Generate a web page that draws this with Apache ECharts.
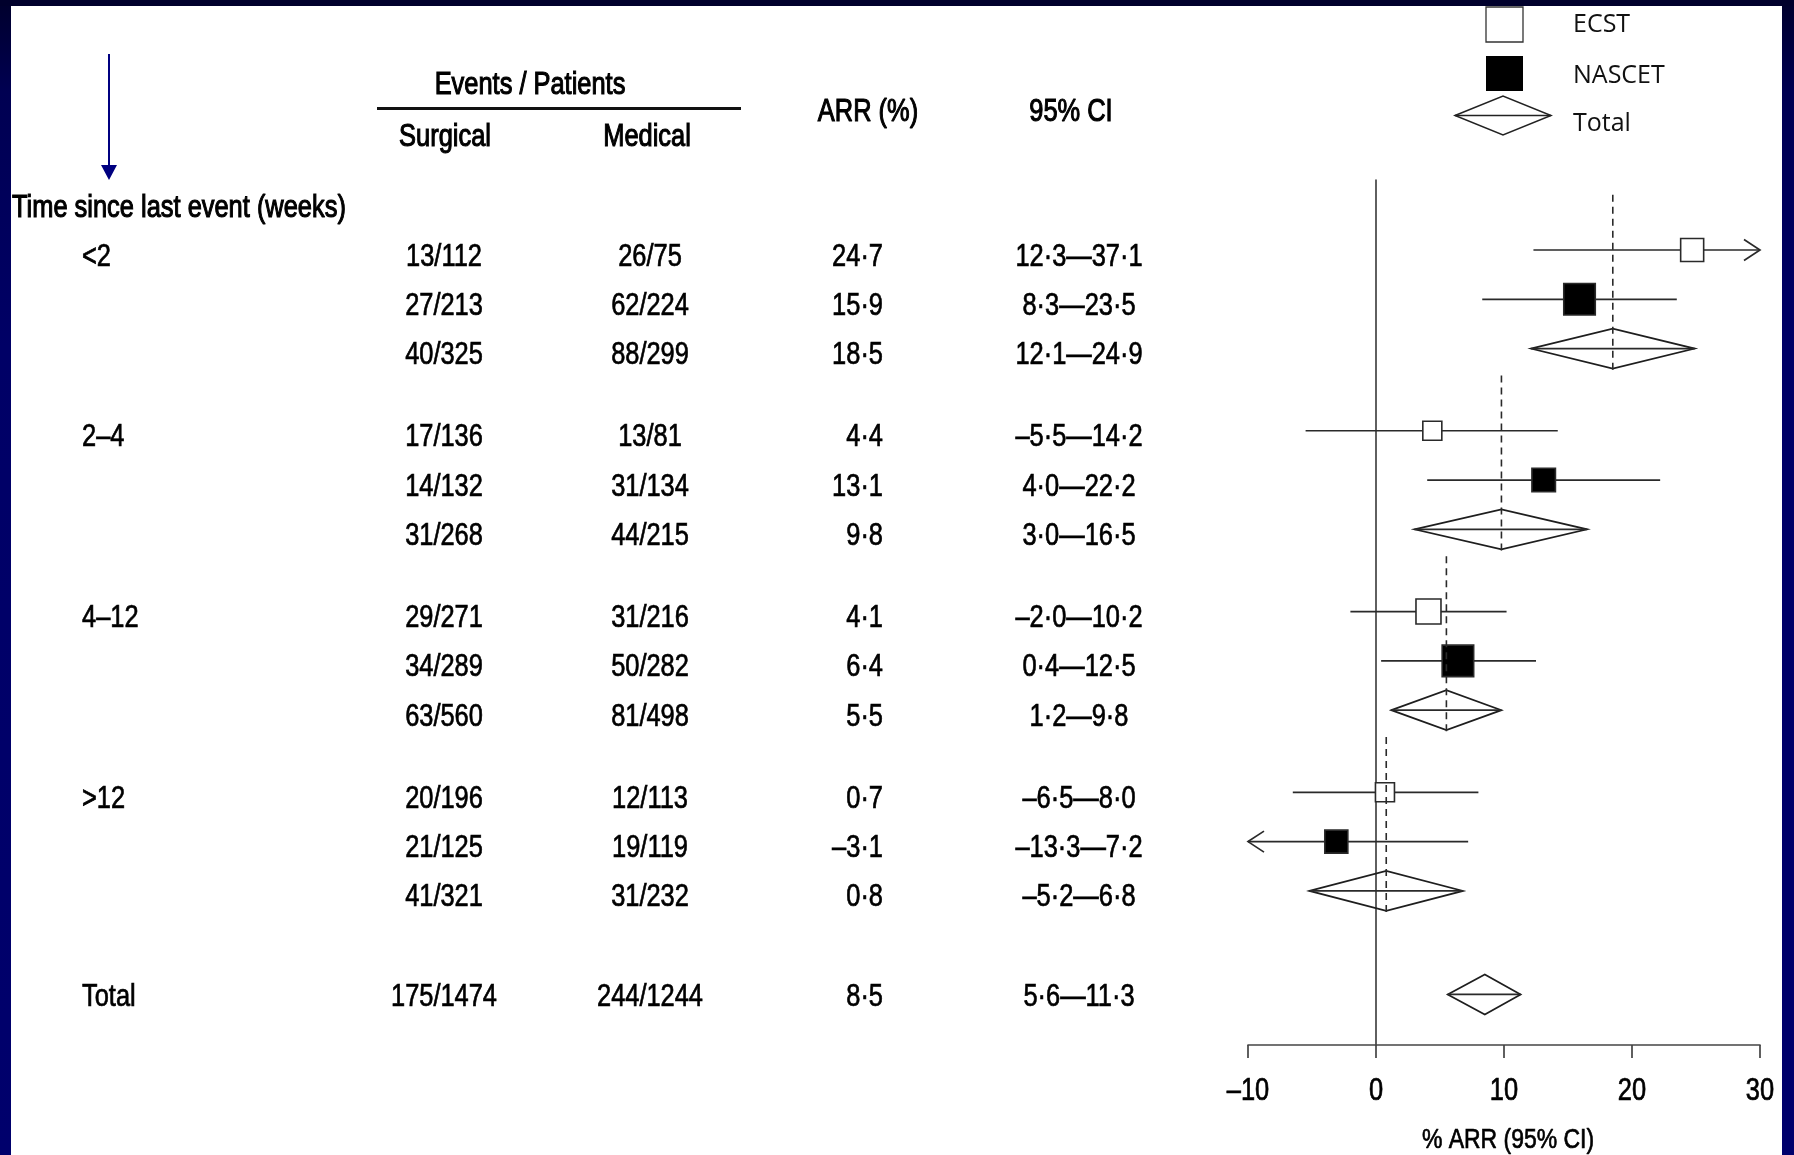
<!DOCTYPE html>
<html>
<head>
<meta charset="utf-8">
<script src="https://cdn.jsdelivr.net/npm/echarts@6/dist/echarts.min.js"></script>
<style>
html,body{margin:0;padding:0;background:#000066;}
#c{width:1794px;height:1155px;}
</style>
</head>
<body>
<div id="c"></div>
<script>
// ---------------- data ----------------
const groupLabels = ['<2', '2–4', '4–12', '>12'];
const studies = ['ECST', 'NASCET', 'Total', 'ECST', 'NASCET', 'Total', 'ECST', 'NASCET', 'Total', 'ECST', 'NASCET', 'Total', 'Overall'];
const surgicalEvents   = [13, 27, 40, 17, 14, 31, 29, 34, 63, 20, 21, 41, 175];
const surgicalPatients = [112, 213, 325, 136, 132, 268, 271, 289, 560, 196, 125, 321, 1474];
const medicalEvents    = [26, 62, 88, 13, 31, 44, 31, 50, 81, 12, 19, 31, 244];
const medicalPatients  = [75, 224, 299, 81, 134, 215, 216, 282, 498, 113, 119, 232, 1244];
const arr    = [24.7, 15.9, 18.5, 4.4, 13.1, 9.8, 4.1, 6.4, 5.5, 0.7, -3.1, 0.8, 8.5];
const ciLow  = [12.3, 8.3, 12.1, -5.5, 4.0, 3.0, -2.0, 0.4, 1.2, -6.5, -13.3, -5.2, 5.6];
const ciHigh = [37.1, 23.5, 24.9, 14.2, 22.2, 16.5, 10.2, 12.5, 9.8, 8.0, 7.2, 6.8, 11.3];
// relative study weights (drawn as box side)
const boxWeight = [23, 31.5, null, 19, 23.5, null, 25, 31.5, null, 19, 23, null, null];
const xTicks = [-10, 0, 10, 20, 30];
const legendItems = ['ECST', 'NASCET', 'Total'];

// ---------------- layout ----------------
const XMIN = xTicks[0], XMAX = xTicks[xTicks.length - 1];
const YMIN = -1.42, YMAX = 16.126;
const GROUP_STEP = 11 / 3;
const TOTAL_GAP = 2.1;
function rowPos(i) {
  if (i < 12) return Math.floor(i / 3) * GROUP_STEP + (i % 3);
  return 3 * GROUP_STEP + 2 + TOTAL_GAP;
}
const FONT = '"Liberation Sans", Arial, Helvetica, sans-serif';
const NARROW = 0.82;
const LEG_FONT = '"Open Sans", "Noto Sans", sans-serif';
const TXT = '#000';
const fmt = v => (v < 0 ? '–' : '') + Math.abs(v).toFixed(1).replace('.', '·');

const COL_LABEL_X = 82, COL_SURG_X = 444, COL_MED_X = 650, COL_ARR_X = 883, COL_CI_X = 1079;
const TEXT_DY = 7, TOTAL_TEXT_DY = 3.5;
const HDY = 2;

function txt(text, x, y, align, size, extra, weight) {
  align = align || 'center';
  return Object.assign({
    type: 'text', x: x, y: y, scaleX: NARROW, scaleY: 1,
    style: {
      text: text, x: 0, y: 0,
      fill: TXT, stroke: TXT, lineWidth: weight == null ? 0.7 : weight,
      font: (size || 31) + 'px ' + FONT,
      textAlign: align, align: align,
      textVerticalAlign: 'middle', verticalAlign: 'middle'
    }
  }, extra || {});
}

const rowsData = arr.map((v, i) => [v, rowPos(i), ciLow[i], ciHigh[i], i]);
const tableData = arr.map((v, i) => [0, rowPos(i), i]);
const tickData = xTicks.map(v => [v, YMAX]);

function renderForest(params, api) {
  const i = api.value(4);
  const y = api.value(1);
  const lo = api.value(2), hi = api.value(3);
  const c = api.coord([api.value(0), y]);
  const pl = api.coord([Math.max(lo, XMIN), y]);
  const ph = api.coord([Math.min(hi, XMAX), y]);
  const kids = [];
  const ls = { stroke: '#2a2a2a', lineWidth: 1.7, fill: null };
  const kind = studies[i];
  if (kind === 'ECST' || kind === 'NASCET') {
    kids.push({ type: 'line', shape: { x1: pl[0], y1: pl[1], x2: ph[0], y2: ph[1] }, style: ls });
    const AL = 16, AW = 10.5;
    if (hi > XMAX) kids.push({ type: 'polyline', shape: { points: [[ph[0] - AL, ph[1] - AW], [ph[0], ph[1]], [ph[0] - AL, ph[1] + AW]] }, style: ls });
    if (lo < XMIN) kids.push({ type: 'polyline', shape: { points: [[pl[0] + AL, pl[1] - AW], [pl[0], pl[1]], [pl[0] + AL, pl[1] + AW]] }, style: ls });
    const s = boxWeight[i];
    kids.push({ type: 'rect', shape: { x: c[0] - s / 2, y: c[1] - s / 2, width: s, height: s },
      style: { fill: kind === 'ECST' ? '#fff' : '#000', stroke: '#2a2a2a', lineWidth: 1.6 }, z2: 5 });
  } else {
    const H = 20;
    kids.push({ type: 'polygon', shape: { points: [[pl[0], c[1]], [c[0], c[1] - H], [ph[0], c[1]], [c[0], c[1] + H]] },
      style: { fill: null, stroke: '#1e1e1e', lineWidth: 1.7 } });
    kids.push({ type: 'line', shape: { x1: pl[0], y1: c[1], x2: ph[0], y2: c[1] }, style: ls });
    if (kind === 'Total') {
      const top = api.coord([api.value(0), rowPos(i - 2) - 1.12])[1];
      const bot = api.coord([api.value(0), y + 0.48])[1];
      kids.push({ type: 'line', shape: { x1: c[0], y1: top, x2: c[0], y2: bot },
        style: { stroke: '#2a2a2a', lineWidth: 1.6, lineDash: [7, 5] }, z2: 10 });
    }
  }
  return { type: 'group', children: kids };
}

function renderTable(params, api) {
  const i = api.value(2);
  const y = api.coord([0, api.value(1)])[1] + (i === 12 ? TOTAL_TEXT_DY : TEXT_DY);
  const kids = [];
  if (i === 12) kids.push(txt('Total', COL_LABEL_X, y, 'left'));
  else if (i % 3 === 0) kids.push(txt(groupLabels[i / 3], COL_LABEL_X, y, 'left'));
  kids.push(txt(surgicalEvents[i] + '/' + surgicalPatients[i], COL_SURG_X, y, 'center'));
  kids.push(txt(medicalEvents[i] + '/' + medicalPatients[i], COL_MED_X, y, 'center'));
  kids.push(txt(fmt(arr[i]), COL_ARR_X, y, 'right'));
  kids.push(txt(fmt(ciLow[i]) + '—' + fmt(ciHigh[i]), COL_CI_X, y, 'center'));
  return { type: 'group', children: kids };
}

function renderTicks(params, api) {
  const v = api.value(0);
  const p = api.coord([v, api.value(1)]);
  return txt((v < 0 ? '–' : '') + Math.abs(v), p[0], p[1] + 46, 'center', 31);
}

const bgGrad = () => new echarts.graphic.LinearGradient(0, 0, 0, 1, [
  { offset: 0, color: '#00002c' }, { offset: 0.08, color: '#000052' },
  { offset: 0.3, color: '#000066' }, { offset: 1, color: '#00006c' }
]);

const chart = echarts.init(document.getElementById('c'), null, { renderer: 'canvas' });
chart.setOption({
  animation: false,
  backgroundColor: '#000066',
  grid: { left: 1248, right: 34, top: 180, bottom: 110, containLabel: false, outerBoundsMode: 'none' },
  xAxis: {
    type: 'value', min: XMIN, max: XMAX, interval: 10,
    axisLine: { show: true, onZero: false, lineStyle: { color: '#444', width: 1.7 } },
    axisTick: { show: true, length: 13, lineStyle: { color: '#444', width: 1.7 } },
    axisLabel: { show: false },
    splitLine: { show: false }
  },
  yAxis: {
    type: 'value', inverse: true, min: YMIN, max: YMAX,
    axisLine: { show: true, onZero: true, lineStyle: { color: '#444', width: 1.7 } },
    axisTick: { show: false }, axisLabel: { show: false }, splitLine: { show: false }
  },
  graphic: { elements: [
    { type: 'rect', z: -20, silent: true, shape: { x: 0, y: 0, width: 1794, height: 1155 }, style: { fill: bgGrad() } },
    { type: 'rect', z: -19, silent: true, shape: { x: 11, y: 6, width: 1771, height: 1149 }, style: { fill: '#ffffff' } },
    { type: 'rect', z: 100, silent: true, shape: { x: 1782, y: 0, width: 12, height: 1155 }, style: { fill: bgGrad() } },
    { type: 'rect', z: 100, silent: true, shape: { x: 0, y: 0, width: 1794, height: 6 }, style: { fill: '#00002c' } },
    // arrow at top-left
    { type: 'line', z: 5, shape: { x1: 109, y1: 54, x2: 109, y2: 168 }, style: { stroke: '#000080', lineWidth: 2 } },
    { type: 'polygon', z: 5, shape: { points: [[101, 165], [117, 165], [109, 180]] }, style: { fill: '#000080' } },
    // headers
    txt('Time since last event (weeks)', 12, 206 + HDY, 'left', 31, { z: 5 }, 1.1),
    txt('Events / Patients', 530, 83 + HDY, 'center', 31, { z: 5 }, 1.1),
    { type: 'line', z: 5, shape: { x1: 377, y1: 108.5, x2: 741, y2: 108.5 }, style: { stroke: '#111', lineWidth: 3 } },
    txt('Surgical', 445, 135 + HDY, 'center', 31, { z: 5 }, 1.1),
    txt('Medical', 647, 135 + HDY, 'center', 31, { z: 5 }, 1.1),
    txt('ARR (%)', 868, 110 + HDY, 'center', 31, { z: 5 }, 1.1),
    txt('95% CI', 1071, 110 + HDY, 'center', 31, { z: 5 }, 1.1),
    txt('% ARR (95% CI)', 1508, 1140, 'center', 28, { z: 5 }),
    // legend
    { type: 'rect', z: 5, shape: { x: 1486, y: 7, width: 37, height: 35 }, style: { fill: '#fff', stroke: '#333', lineWidth: 1.3 } },
    { type: 'rect', z: 5, shape: { x: 1486, y: 56, width: 37, height: 35 }, style: { fill: '#000' } },
    { type: 'polygon', z: 5, shape: { points: [[1455, 115.5], [1503, 96], [1551, 115.5], [1503, 135]] }, style: { fill: null, stroke: '#222', lineWidth: 1.5 } },
    { type: 'line', z: 5, shape: { x1: 1455, y1: 115.5, x2: 1551, y2: 115.5 }, style: { stroke: '#222', lineWidth: 1.5 } },
    { type: 'text', z: 5, style: { text: legendItems[0], x: 1573, y: 25, fill: '#111', font: '25px ' + LEG_FONT, textVerticalAlign: 'middle', verticalAlign: 'middle' } },
    { type: 'text', z: 5, style: { text: legendItems[1], x: 1573, y: 76, fill: '#111', font: '25px ' + LEG_FONT, textVerticalAlign: 'middle', verticalAlign: 'middle' } },
    { type: 'text', z: 5, style: { text: legendItems[2], x: 1573, y: 124, fill: '#111', font: '25px ' + LEG_FONT, textVerticalAlign: 'middle', verticalAlign: 'middle' } }
  ] },
  series: [
    { type: 'custom', name: 'forest', silent: true, coordinateSystem: 'cartesian2d', clip: false,
      encode: { x: 0, y: 1 }, data: rowsData, renderItem: renderForest, z: 3 },
    { type: 'custom', name: 'table', silent: true, coordinateSystem: 'cartesian2d', clip: false,
      encode: { x: 0, y: 1 }, data: tableData, renderItem: renderTable, z: 3 },
    { type: 'custom', name: 'ticks', silent: true, coordinateSystem: 'cartesian2d', clip: false,
      encode: { x: 0, y: 1 }, data: tickData, renderItem: renderTicks, z: 3 }
  ]
});
</script>
</body>
</html>
